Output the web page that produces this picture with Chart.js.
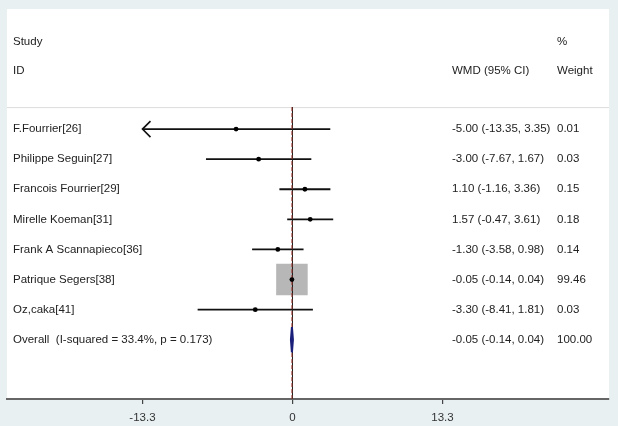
<!DOCTYPE html>
<html>
<head>
<meta charset="utf-8">
<script src="https://cdn.jsdelivr.net/npm/chart.js@4/dist/chart.umd.min.js"></script>
<style>
  html, body { margin: 0; padding: 0; background: #e8f0f2; }
  #wrap { width: 618px; height: 426px; position: relative; }
</style>
</head>
<body>
<div id="wrap"><canvas id="c" width="618" height="426"></canvas></div>
<script>
// ---- data ----
const studies = ["F.Fourrier[26]", "Philippe Seguin[27]", "Francois Fourrier[29]", "Mirelle Koeman[31]",
                 "Frank A Scannapieco[36]", "Patrique Segers[38]", "Oz,caka[41]"];
const estimates = [-5.00, -3.00, 1.10, 1.57, -1.30, -0.05, -3.30];
const lowerCI  = [-13.35, -7.67, -1.16, -0.47, -3.58, -0.14, -8.41];
const upperCI  = [3.35, 1.67, 3.36, 3.61, 0.98, 0.04, 1.81];
const weights  = [0.01, 0.03, 0.15, 0.18, 0.14, 99.46, 0.03];
const overallLabel = "Overall  (I-squared = 33.4%, p = 0.173)";
const overallEst = -0.05, overallLo = -0.14, overallHi = 0.04, overallWeight = 100.00;
const xTicks = [-13.3, 0, 13.3];
const xTickLabels = ["-13.3", "0", "13.3"];
const headerLeft = ["Study", "ID"];
const headerCI = "WMD (95% CI)";
const headerWeight = ["%", "Weight"];

// ---- layout helpers (rows in y units) ----
const overallRow = studies.length;
const Y_MIN = -3.99, Y_MAX = 8.97;
const SEP_ROW = -0.73;
const X_MIN = -25.31, X_MAX = 28.06;
const PLOT_MIN = xTicks[0];
const maxW = Math.max(...weights);
const fmt = v => v.toFixed(2);

const datasets = [];
// weight boxes
datasets.push({
  type: 'scatter', order: 6,
  data: studies.map((s, i) => ({x: estimates[i], y: i})),
  pointStyle: 'rect',
  pointRadius: weights.map(w => 22.3 * Math.sqrt(w / maxW)),
  backgroundColor: '#b7b7b7', borderColor: '#b7b7b7', borderWidth: 0
});
// CI lines
studies.forEach((s, i) => {
  datasets.push({
    type: 'line', order: 5,
    data: [{x: Math.max(lowerCI[i], PLOT_MIN), y: i}, {x: upperCI[i], y: i}],
    borderColor: '#111', borderWidth: 1.8, pointRadius: 0, fill: false
  });
});
// null line at 0
datasets.push({
  type: 'line', order: 4,
  data: [{x: 0, y: SEP_ROW}, {x: 0, y: Y_MAX}],
  borderColor: '#222', borderWidth: 1, pointRadius: 0, fill: false
});
// overall effect dashed line
datasets.push({
  type: 'line', order: 3,
  data: [{x: overallEst, y: SEP_ROW}, {x: overallEst, y: Y_MAX}],
  borderColor: '#a5392f', borderWidth: 1, borderDash: [4, 2], pointRadius: 0, fill: false
});
// overall diamond
datasets.push({
  type: 'line', order: 2,
  data: [{x: overallLo, y: overallRow}, {x: overallEst, y: overallRow - 0.42},
         {x: overallHi, y: overallRow}, {x: overallEst, y: overallRow + 0.42},
         {x: overallLo, y: overallRow}],
  borderColor: '#1a1f7a', borderWidth: 2, borderJoinStyle: 'bevel', pointRadius: 0, fill: false, tension: 0
});
// point estimates
datasets.push({
  type: 'scatter', order: 1,
  data: studies.map((s, i) => ({x: estimates[i], y: i})),
  pointStyle: 'circle', pointRadius: 2.4,
  backgroundColor: '#000', borderColor: '#000', borderWidth: 0
});

const textPlugin = {
  id: 'forestText',
  beforeDraw(chart) {
    const {ctx, chartArea: a} = chart;
    ctx.save();
    ctx.fillStyle = '#ffffff';
    ctx.fillRect(a.left, a.top, a.right - a.left, a.bottom - a.top);
    // separator
    const ys = chart.scales.y.getPixelForValue(SEP_ROW);
    ctx.strokeStyle = '#dcdcdc';
    ctx.lineWidth = 1;
    ctx.beginPath(); ctx.moveTo(a.left, ys + 0.5); ctx.lineTo(a.right, ys + 0.5); ctx.stroke();
    ctx.restore();
  },
  afterDatasetsDraw(chart) {
    const {ctx, chartArea: a, scales: {x, y}} = chart;
    ctx.save();
    ctx.font = '11.5px "Liberation Sans", Arial, sans-serif';
    ctx.fillStyle = '#222';
    ctx.textBaseline = 'middle';
    ctx.textAlign = 'left';
    const xl = a.left + 6, xc = 452, xw = 557;
    ctx.fillText(headerLeft[0], xl, y.getPixelForValue(-2.89));
    ctx.fillText(headerLeft[1], xl, y.getPixelForValue(-1.93));
    ctx.fillText(headerWeight[0], xw, y.getPixelForValue(-2.89));
    ctx.fillText(headerCI, xc, y.getPixelForValue(-1.93));
    ctx.fillText(headerWeight[1], xw, y.getPixelForValue(-1.93));
    studies.forEach((s, i) => {
      const py = y.getPixelForValue(i);
      ctx.fillText(s, xl, py);
      ctx.fillText(`${fmt(estimates[i])} (${fmt(lowerCI[i])}, ${fmt(upperCI[i])})`, xc, py);
      ctx.fillText(fmt(weights[i]), xw, py);
    });
    const po = y.getPixelForValue(overallRow);
    ctx.fillText(overallLabel, xl, po);
    ctx.fillText(`${fmt(overallEst)} (${fmt(overallLo)}, ${fmt(overallHi)})`, xc, po);
    ctx.fillText(fmt(overallWeight), xw, po);
    // arrows for clipped CIs
    ctx.strokeStyle = '#111';
    ctx.lineWidth = 1.6;
    studies.forEach((s, i) => {
      if (lowerCI[i] < PLOT_MIN) {
        const px = x.getPixelForValue(PLOT_MIN), py = y.getPixelForValue(i);
        ctx.beginPath();
        ctx.moveTo(px + 8, py - 8); ctx.lineTo(px, py); ctx.lineTo(px + 8, py + 8);
        ctx.stroke();
      }
    });
    ctx.restore();
  }
};

new Chart(document.getElementById('c'), {
  data: { datasets },
  options: {
    responsive: false, animation: false,
    layout: { autoPadding: false, padding: { left: 7, right: 9, top: 9, bottom: 0 } },
    plugins: { legend: { display: false }, tooltip: { enabled: false } },
    scales: {
      x: {
        type: 'linear', min: X_MIN, max: X_MAX,
        afterBuildTicks: s => { s.ticks = xTicks.map(v => ({value: v})); },
        afterFit: s => { s.height = 27; },
        ticks: {
          autoSkip: false, maxRotation: 0, padding: 7, color: '#333',
          font: { family: '"Liberation Sans", Arial, sans-serif', size: 11.5 },
          callback: (v) => xTickLabels[xTicks.indexOf(v)] ?? ''
        },
        grid: { drawOnChartArea: false, drawTicks: true, tickLength: 5, color: '#444', lineWidth: 1.2 },
        border: { display: true, color: '#666', width: 2 }
      },
      y: {
        type: 'linear', reverse: true, min: Y_MIN, max: Y_MAX, display: false
      }
    }
  },
  plugins: [textPlugin]
});
</script>
</body>
</html>
